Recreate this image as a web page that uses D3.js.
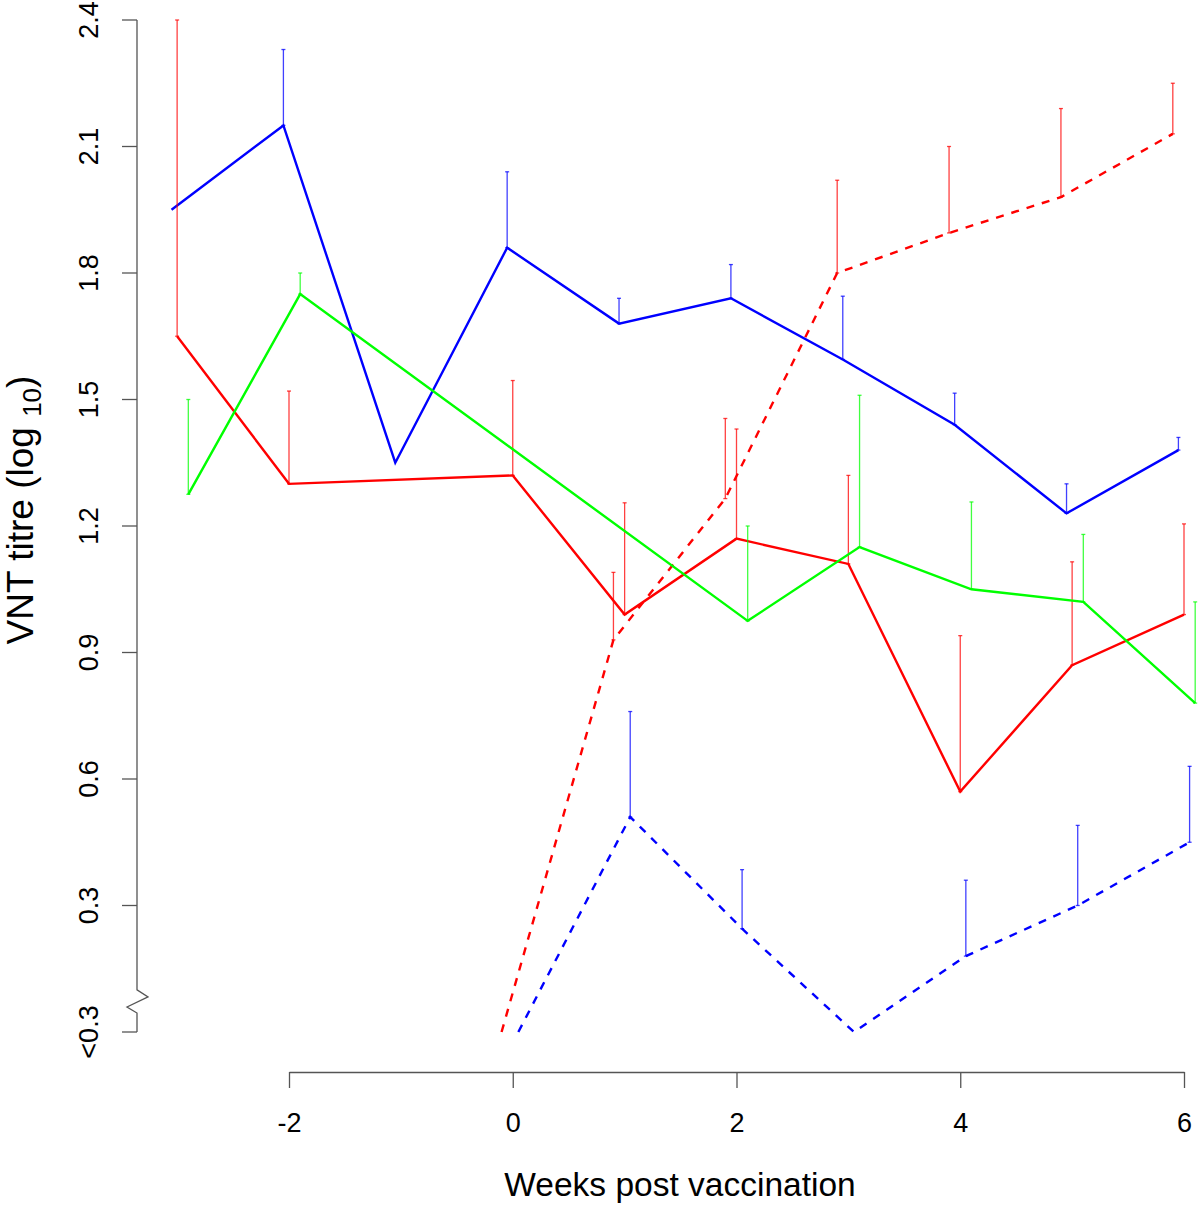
<!DOCTYPE html>
<html>
<head>
<meta charset="utf-8">
<script src="https://cdn.jsdelivr.net/npm/d3@7"></script>
<style>
  html, body { margin: 0; padding: 0; background: #fff; }
  svg { display: block; font-family: "Liberation Sans", Arial, sans-serif; }
</style>
</head>
<body>
<div id="chart"></div>
<script>
// Tick values / labels
const yTicks = [0, 0.3, 0.6, 0.9, 1.2, 1.5, 1.8, 2.1, 2.4];
const yTickLabels = ['<0.3', '0.3', '0.6', '0.9', '1.2', '1.5', '1.8', '2.1', '2.4'];
const xTicks = [-2, 0, 2, 4, 6];

// Blue, solid
const blueSolidWeeks = [-3, -2, -1, 0, 1, 2, 3, 4, 5, 6];
const blueSolidMean  = [1.95, 2.15, 1.35, 1.86, 1.68, 1.74, 1.595, 1.44, 1.23, 1.38];
const blueSolidUpper = [null, 2.33, null, 2.04, 1.74, 1.82, 1.745, 1.515, 1.30, 1.41];

// Red, solid
const redSolidWeeks = [-3, -2, 0, 1, 2, 3, 4, 5, 6];
const redSolidMean  = [1.65, 1.30, 1.32, 0.99, 1.17, 1.11, 0.57, 0.87, 0.99];
const redSolidUpper = [2.40, 1.52, 1.545, 1.255, 1.43, 1.32, 0.94, 1.115, 1.205];

// Green, solid
const greenWeeks = [-3, -2, 2, 3, 4, 5, 6];
const greenMean  = [1.275, 1.75, 0.975, 1.15, 1.05, 1.02, 0.78];
const greenUpper = [1.50, 1.80, 1.20, 1.51, 1.257, 1.18, 1.02];

// Red, dashed
const redDashedWeeks = [0, 1, 2, 3, 4, 5, 6];
const redDashedMean  = [0, 0.93, 1.265, 1.80, 1.895, 1.98, 2.13];
const redDashedUpper = [null, 1.09, 1.455, 2.02, 2.10, 2.19, 2.25];

// Blue, dashed
const blueDashedWeeks = [0, 1, 2, 3, 4, 5, 6];
const blueDashedMean  = [0, 0.51, 0.245, 0, 0.18, 0.30, 0.45];
const blueDashedUpper = [null, 0.76, 0.385, null, 0.36, 0.49, 0.63];

const series = [
  { weeks: redDashedWeeks, mean: redDashedMean, upper: redDashedUpper, color: '#ff0000', dashed: true, shift: -0.1 },
  { weeks: blueSolidWeeks, mean: blueSolidMean, upper: blueSolidUpper, color: '#0000ff', dashed: false, shift: -0.05 },
  { weeks: redSolidWeeks, mean: redSolidMean, upper: redSolidUpper, color: '#ff0000', dashed: false, shift: 0 },
  { weeks: blueDashedWeeks, mean: blueDashedMean, upper: blueDashedUpper, color: '#0000ff', dashed: true, shift: 0.05 },
  { weeks: greenWeeks, mean: greenMean, upper: greenUpper, color: '#00ff00', dashed: false, shift: 0.1 }
];

const W = 1200, H = 1206;
const axisColor = '#555';

const svg = d3.select('#chart').append('svg')
  .attr('width', W)
  .attr('height', H)
  .attr('viewBox', `0 0 ${W} ${H}`);

svg.append('rect').attr('width', W).attr('height', H).attr('fill', '#fff');

const x = d3.scaleLinear().domain([-2, 6]).range([289, 1184]);
const y = d3.scaleLinear().domain([0, 2.4]).range([1032, 20]);

// --- y axis (with a break near the bottom) ---
const yAxisX = 137;
const yAxis = svg.append('g').attr('transform', `translate(${yAxisX},0)`);
const breakTop = y(0.1), breakBot = y(0.045);
yAxis.append('path')
  .attr('fill', 'none')
  .attr('stroke', axisColor)
  .attr('stroke-width', 1.3)
  .attr('d', `M0,${y(2.4)}V${breakTop}L11,${breakTop + 7}L-10,${breakBot - 6}L0,${breakBot}V${y(0)}`);

yAxis.selectAll('line.tick')
  .data(yTicks)
  .join('line')
  .attr('class', 'tick')
  .attr('x1', -15).attr('x2', 0)
  .attr('y1', d => y(d)).attr('y2', d => y(d))
  .attr('stroke', axisColor)
  .attr('stroke-width', 1.3);

yAxis.selectAll('text.tick')
  .data(yTicks)
  .join('text')
  .attr('class', 'tick')
  .attr('transform', d => `translate(-39,${y(d)}) rotate(-90)`)
  .attr('text-anchor', 'middle')
  .attr('font-size', 27)
  .attr('fill', '#000')
  .text((d, i) => yTickLabels[i]);

// --- x axis ---
const xAxisG = svg.append('g').attr('transform', 'translate(0,1072)');
xAxisG.call(d3.axisBottom(x)
  .tickValues(xTicks)
  .tickFormat(d => String(d))
  .tickSize(16)
  .tickSizeOuter(0)
  .tickPadding(25));
xAxisG.select('.domain').attr('stroke', axisColor).attr('stroke-width', 1.3);
xAxisG.selectAll('.tick line').attr('stroke', axisColor).attr('stroke-width', 1.3);
xAxisG.selectAll('.tick text')
  .attr('font-size', 27)
  .attr('fill', '#000')
  .attr('font-family', '"Liberation Sans", Arial, sans-serif');

// --- axis titles ---
svg.append('text')
  .attr('x', 680)
  .attr('y', 1196)
  .attr('text-anchor', 'middle')
  .attr('font-size', 33.5)
  .attr('fill', '#000')
  .text('Weeks post vaccination');

const yTitle = svg.append('text')
  .attr('transform', `translate(33,510) rotate(-90)`)
  .attr('text-anchor', 'middle')
  .attr('font-size', 37)
  .attr('fill', '#000');
yTitle.append('tspan').text('VNT titre (log ');
yTitle.append('tspan').attr('font-size', 26).attr('dy', 8).text('10');
yTitle.append('tspan').attr('dy', -8).text(')');

// --- series ---
const line = d3.line().x(d => x(d.w)).y(d => y(d.m));

series.forEach(s => {
  const pts = s.weeks.map((w, i) => ({ w: w + s.shift, m: s.mean[i], u: s.upper[i] }));
  const g = svg.append('g');

  // upward error bars with caps at both ends
  const bars = pts.filter(d => d.u != null);
  g.selectAll('line.err')
    .data(bars)
    .join('line')
    .attr('class', 'err')
    .attr('x1', d => x(d.w)).attr('x2', d => x(d.w))
    .attr('y1', d => y(d.m)).attr('y2', d => y(d.u))
    .attr('stroke', s.color)
    .attr('stroke-opacity', 0.75)
    .attr('stroke-width', 1.3);
  g.selectAll('line.cap')
    .data(bars.flatMap(d => [{ w: d.w, v: d.u }, { w: d.w, v: d.m }]))
    .join('line')
    .attr('class', 'cap')
    .attr('x1', d => x(d.w) - 2).attr('x2', d => x(d.w) + 2)
    .attr('y1', d => y(d.v)).attr('y2', d => y(d.v))
    .attr('stroke', s.color)
    .attr('stroke-opacity', 0.75)
    .attr('stroke-width', 1.3);

  g.append('path')
    .datum(pts)
    .attr('fill', 'none')
    .attr('stroke', s.color)
    .attr('stroke-width', 2.4)
    .attr('stroke-dasharray', s.dashed ? '8,8' : null)
    .attr('d', line);
});
</script>
</body>
</html>
